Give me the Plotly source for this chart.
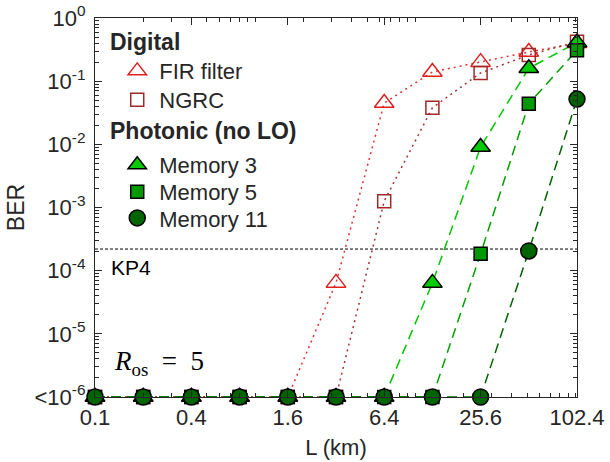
import numpy as np
import plotly.graph_objects as go

L_km = [0.1, 0.2, 0.4, 0.8, 1.6, 3.2, 6.4, 12.8, 25.6, 51.2, 102.4]
FLOOR = 1e-6
KP4 = 2.2e-4

fir_filter = [FLOOR, FLOOR, FLOOR, FLOOR, FLOOR, 6.4e-5, 4.5e-2, 0.14, 0.20, 0.29, 0.40]
ngrc = [FLOOR, FLOOR, FLOOR, FLOOR, FLOOR, FLOOR, 1.26e-3, 0.038, 0.135, 0.26, 0.42]
memory3 = [FLOOR, FLOOR, FLOOR, FLOOR, FLOOR, FLOOR, FLOOR, 6.4e-5, 9.1e-3, 0.16, 0.41]
memory5 = [FLOOR, FLOOR, FLOOR, FLOOR, FLOOR, FLOOR, FLOOR, FLOOR, 1.85e-4, 0.044, 0.31]
memory11 = [FLOOR, FLOOR, FLOOR, FLOOR, FLOOR, FLOOR, FLOOR, FLOOR, FLOOR, 2.05e-4, 0.052]

x_tickvals = [0.1, 0.4, 1.6, 6.4, 25.6, 102.4]
x_ticktext = ["0.1", "0.4", "1.6", "6.4", "25.6", "102.4"]
y_tickvals = [1e-6, 1e-5, 1e-4, 1e-3, 1e-2, 1e-1, 1e0]
y_ticktext = ["<10<sup>-6</sup>", "10<sup>-5</sup>", "10<sup>-4</sup>", "10<sup>-3</sup>",
              "10<sup>-2</sup>", "10<sup>-1</sup>", "10<sup>0</sup>"]
group_titles = ["Digital", "Photonic (no LO)"]

FONT = "Liberation Sans, Arial, sans-serif"
AX = "#262626"

series = [
    ("FIR filter", fir_filter, "triangle-up-open", 17, "#e02020", "#e02020", "dot", "#e03030"),
    ("NGRC", ngrc, "square-open", 13, "#a02828", "#a02828", "dot", "#a83030"),
    ("Memory 3", memory3, "triangle-up", 17, "#00cc00", "#000000", "dash", "#00c800"),
    ("Memory 5", memory5, "square", 13, "#009900", "#000000", "dash", "#00a000"),
    ("Memory 11", memory11, "circle", 16, "#006400", "#000000", "dash", "#006400"),
]
legend_ids = ["legend", "legend2", "legend3", "legend4", "legend5"]
legend_y = [0.860, 0.784, 0.612, 0.541, 0.472]

fig = go.Figure()

# KP4 threshold line
fig.add_trace(go.Scatter(x=[x_tickvals[0], x_tickvals[-1]], y=[KP4, KP4], mode="lines",
                         line=dict(color="black", width=1, dash="3px,2px"),
                         showlegend=False, hoverinfo="skip"))

for name, ys, sym, size, fill, edge, dash, lcol in series:
    dashstr = "2px,4px" if dash == "dot" else "10px,6px"
    fig.add_trace(go.Scatter(x=L_km, y=ys, mode="lines",
                             line=dict(color=lcol, width=1.5, dash=dashstr),
                             showlegend=False, hoverinfo="skip", cliponaxis=False))

for (name, ys, sym, size, fill, edge, dash, lcol), lid in zip(series, legend_ids):
    fig.add_trace(go.Scatter(x=L_km, y=ys, mode="markers", name=name, legend=lid,
                             marker=dict(symbol=sym, size=size, color=fill,
                                         line=dict(color=edge, width=1.5)),
                             cliponaxis=False))

# legend group headers
for txt, yp in zip(group_titles, [0.936, 0.702]):
    fig.add_annotation(text="<b>" + txt + "</b>", xref="paper", yref="paper",
                       x=0.028, y=yp, xanchor="left", yanchor="middle", showarrow=False,
                       font=dict(size=23, color=AX, family=FONT))

fig.add_annotation(text="KP4", xref="paper", yref="y", x=0.03, y=np.log10(KP4),
                   xanchor="left", yanchor="top", yshift=-5, showarrow=False,
                   font=dict(size=21, color="black", family=FONT))
fig.add_annotation(text="<i>R</i><sub>os</sub>\u2002=\u20025", xref="paper", yref="paper",
                   x=0.035, y=0.09, xanchor="left", yanchor="middle", showarrow=False,
                   font=dict(size=27, color="black", family="Liberation Serif, Times New Roman, serif"))

legend_layout = {}
for lid, ly in zip(legend_ids, legend_y):
    legend_layout[lid] = dict(x=0.042, y=ly, xanchor="left", yanchor="middle",
                              bgcolor="rgba(0,0,0,0)", itemwidth=34,
                              font=dict(size=22, color=AX, family=FONT))

fig.update_layout(
    width=610, height=462,
    margin=dict(l=95, r=33, t=18, b=65, autoexpand=False),
    paper_bgcolor="white", plot_bgcolor="white",
    font=dict(family=FONT, size=21, color=AX),
    xaxis=dict(type="log", range=[np.log10(x_tickvals[0]), np.log10(x_tickvals[-1])],
               tickmode="array", tickvals=x_tickvals, ticktext=x_ticktext,
               ticks="inside", ticklen=7, tickcolor=AX, tickwidth=1,
               showline=True, linecolor=AX, linewidth=1.3, mirror="allticks",
               showgrid=False, zeroline=False, automargin=False,
               ticklabeloverflow="allow",
               tickfont=dict(size=22, color=AX, family=FONT),
               title=dict(text="L (km)", font=dict(size=22, color=AX, family=FONT), standoff=11),
               minor=dict(dtick="D1", ticks="inside", ticklen=4,
                          tickcolor=AX, showgrid=False)),
    yaxis=dict(type="log", range=[-6, 0],
               tickmode="array", tickvals=y_tickvals, ticktext=y_ticktext,
               ticks="inside", ticklen=7, tickcolor=AX, tickwidth=1,
               showline=True, linecolor=AX, linewidth=1.3, mirror="allticks",
               showgrid=False, zeroline=False, automargin=False,
               ticklabelstandoff=4, ticklabeloverflow="allow",
               tickfont=dict(size=22, color=AX, family=FONT),
               title=dict(text="BER", font=dict(size=23, color=AX, family=FONT), standoff=3),
               minor=dict(dtick="D1", ticks="inside", ticklen=4,
                          tickcolor=AX, showgrid=False)),
    **legend_layout,
)

fig.write_html("out.html", config={"displayModeBar": False},
               post_script="document.body.style.margin='0px';document.body.style.overflow='hidden';")
